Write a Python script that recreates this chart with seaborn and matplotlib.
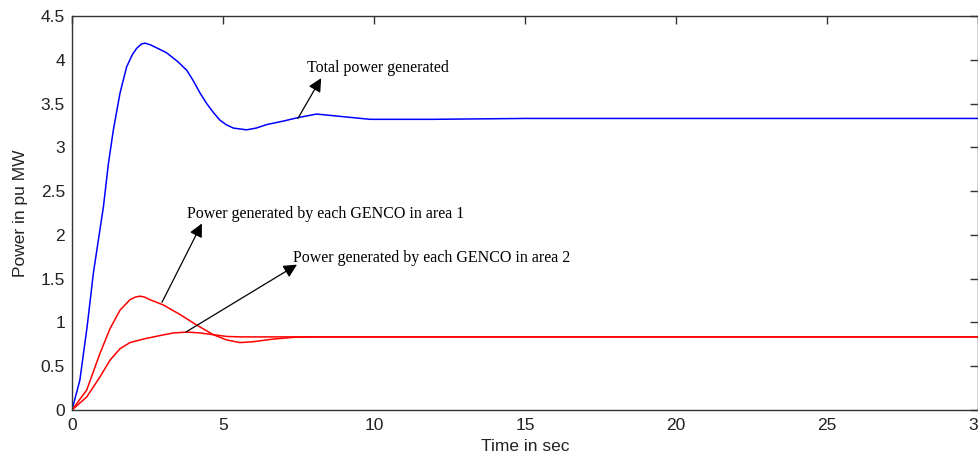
import matplotlib
matplotlib.use("Agg")
import matplotlib.pyplot as plt
import seaborn as sns
import pandas as pd

# Total power generated (blue)
t_total = [0, 0.26, 0.5, 0.71, 1.04, 1.2, 1.37, 1.59, 1.81, 2.0, 2.14, 2.3, 2.42, 2.6, 2.9, 3.13,
           3.5, 3.8, 4.0, 4.24, 4.46, 4.7, 4.9, 5.1, 5.34, 5.78, 6.1, 6.45, 7.0, 7.49, 8.1,
           8.98, 9.87, 11.96, 15, 20, 25, 30]
p_total = [0, 0.34, 0.95, 1.57, 2.32, 2.8, 3.2, 3.62, 3.92, 4.06, 4.13, 4.18, 4.19, 4.17, 4.12, 4.08,
           3.98, 3.88, 3.77, 3.62, 3.5, 3.39, 3.31, 3.26, 3.22, 3.2, 3.22, 3.26, 3.3, 3.34, 3.38,
           3.35, 3.32, 3.32, 3.33, 3.33, 3.33, 3.33]

# Power generated by each GENCO in area 1 (red, peak 1.3)
t_area1 = [0, 0.49, 0.93, 1.26, 1.59, 1.92, 2.1, 2.25, 2.4, 2.58, 3.02, 3.58, 4.13, 4.68, 5.12,
           5.56, 6.0, 6.67, 7.33, 8.0, 10, 15, 20, 25, 30]
p_area1 = [0, 0.23, 0.65, 0.93, 1.14, 1.26, 1.29, 1.30, 1.29, 1.26, 1.20, 1.09, 0.97, 0.86, 0.80,
           0.77, 0.78, 0.81, 0.83, 0.835, 0.835, 0.835, 0.835, 0.835, 0.835]

# Power generated by each GENCO in area 2 (red, slower)
t_area2 = [0, 0.49, 0.93, 1.26, 1.59, 1.92, 2.36, 2.91, 3.36, 3.8, 4.24, 4.68, 5.12, 5.6,
           7, 10, 15, 20, 25, 30]
p_area2 = [0, 0.15, 0.38, 0.57, 0.70, 0.77, 0.81, 0.85, 0.88, 0.89, 0.88, 0.86, 0.84, 0.835,
           0.835, 0.835, 0.835, 0.835, 0.835, 0.835]

x_ticks = [0, 5, 10, 15, 20, 25, 30]
y_ticks = [0, 0.5, 1, 1.5, 2, 2.5, 3, 3.5, 4, 4.5]
y_tick_labels = ["0", "0.5", "1", "1.5", "2", "2.5", "3", "3.5", "4", "4.5"]

sns.set_style("white")
plt.rcParams['font.family'] = ['Liberation Sans', 'DejaVu Sans']

fig = plt.figure(figsize=(9.79, 4.59), dpi=100)
ax = fig.add_axes([72 / 979, 1 - 410 / 459, 906 / 979, 394 / 459])

df_total = pd.DataFrame({"t": t_total, "p": p_total})
df_a1 = pd.DataFrame({"t": t_area1, "p": p_area1})
df_a2 = pd.DataFrame({"t": t_area2, "p": p_area2})

sns.lineplot(data=df_total, x="t", y="p", color="#0000ff", lw=1.1, ax=ax)
sns.lineplot(data=df_a1, x="t", y="p", color="#ff0000", lw=1.1, ax=ax)
sns.lineplot(data=df_a2, x="t", y="p", color="#ff0000", lw=1.1, ax=ax)

ax.set_xlim(0, 30)
ax.set_ylim(0, 4.5)
ax.set_xticks(x_ticks)
ax.set_xticklabels([str(v) for v in x_ticks])
ax.set_yticks(y_ticks)
ax.set_yticklabels(y_tick_labels)
ax.tick_params(direction="in", length=6, width=1, color="#333333", top=True, right=True,
               labelsize=12.5, labelcolor="#222222", pad=5)
ax.tick_params(axis="x", pad=6)
for s in ax.spines.values():
    s.set_visible(True)
    s.set_color("#333333")
    s.set_linewidth(1)

ax.set_xlabel("Time in sec", fontsize=12.5, color="#222222", labelpad=4)
ax.set_ylabel("Power in pu MW", fontsize=12.5, color="#222222", labelpad=9)

arrow = dict(arrowstyle="-|>", color="black", lw=0.9, mutation_scale=20, shrinkA=0, shrinkB=0)
ax.annotate("", xy=(8.25, 3.79), xytext=(7.48, 3.33), arrowprops=arrow)
ax.annotate("", xy=(4.3, 2.13), xytext=(2.98, 1.23), arrowprops=arrow)
ax.annotate("", xy=(7.45, 1.66), xytext=(3.77, 0.89), arrowprops=arrow)

tfont = dict(family=["Liberation Serif", "DejaVu Serif"], fontsize=11.5, color="black", va="center", ha="left")
ax.text(7.78, 3.91, "Total power generated", **tfont)
ax.text(3.81, 2.24, "Power generated by each GENCO in area 1", **tfont)
ax.text(7.32, 1.74, "Power generated by each GENCO in area 2", **tfont)

fig.savefig("out.png", dpi=100)
